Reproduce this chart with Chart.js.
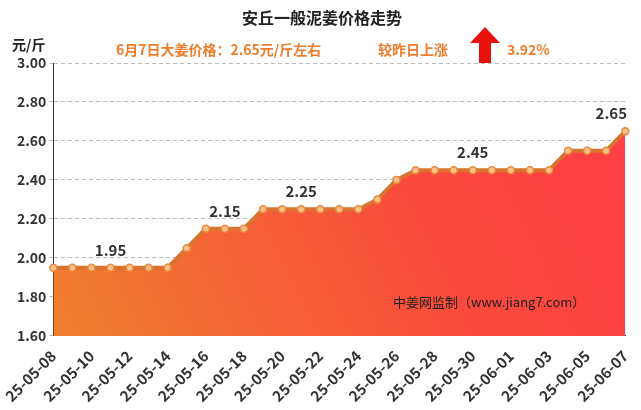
<!DOCTYPE html>
<html><head><meta charset="utf-8">
<script src="https://cdn.jsdelivr.net/npm/chart.js@4"></script>
<style>body{margin:0;background:#fff}#wrap{width:641px;height:410px}</style>
</head><body><div id="wrap"><canvas id="c"></canvas></div>
<script>
const dates = ['25-05-08','25-05-09','25-05-10','25-05-11','25-05-12','25-05-13','25-05-14','25-05-15','25-05-16','25-05-17','25-05-18','25-05-19','25-05-20','25-05-21','25-05-22','25-05-23','25-05-24','25-05-25','25-05-26','25-05-27','25-05-28','25-05-29','25-05-30','25-05-31','25-06-01','25-06-02','25-06-03','25-06-04','25-06-05','25-06-06','25-06-07'];
const prices = [1.95,1.95,1.95,1.95,1.95,1.95,1.95,2.05,2.15,2.15,2.15,2.25,2.25,2.25,2.25,2.25,2.25,2.30,2.40,2.45,2.45,2.45,2.45,2.45,2.45,2.45,2.45,2.55,2.55,2.55,2.65];
const labelIdx = [3,9,13,22,30];
const font = 'Microsoft YaHei, "Noto Sans CJK SC", sans-serif';

const textPlugin = {
  id: 'texts',
  afterDraw(chart) {
    const ctx = chart.ctx;
    ctx.save();
    ctx.fillStyle = '#222';
    ctx.font = 'bold 16px ' + font;
    ctx.textAlign = 'center';
    ctx.fillText('安丘一般泥姜价格走势', 322, 24);
    ctx.fillStyle = '#ee7d2e';
    ctx.font = 'bold 14px ' + font;
    ctx.textAlign = 'left';
    ctx.fillText('6月7日大姜价格：2.65元/斤左右', 116, 55);
    ctx.fillText('较昨日上涨', 378, 55);
    ctx.fillText('3.92%', 507, 55);
    // arrow
    ctx.fillStyle = '#e8120c';
    ctx.beginPath();
    ctx.moveTo(485, 27); ctx.lineTo(500, 43); ctx.lineTo(491, 43); ctx.lineTo(491, 63);
    ctx.lineTo(479, 63); ctx.lineTo(479, 43); ctx.lineTo(470, 43); ctx.closePath(); ctx.fill();
    ctx.fillStyle = '#222';
    ctx.font = 'bold 14px ' + font;
    ctx.fillText('元/斤', 12, 50);
    ctx.font = '13px ' + font;
    ctx.fillText('中姜网监制（www.jiang7.com）', 393, 307);
    // value labels
    const meta = chart.getDatasetMeta(0);
    ctx.font = 'bold 15px ' + font;
    ctx.fillStyle = '#333';
    ctx.textAlign = 'center';
    labelIdx.forEach(i => {
      const p = meta.data[i];
      ctx.fillText(prices[i].toFixed(2), p.x + (i === 30 ? -14 : 0), p.y - 12);
    });
    ctx.restore();
  }
};

new Chart(document.getElementById('c'), {
  type: 'line',
  data: {
    labels: dates,
    datasets: [{
      data: prices,
      borderColor: '#d8742f',
      borderWidth: 4,
      pointRadius: 3.5,
      pointBorderWidth: 1.5,
      pointBorderColor: '#e88a3a',
      pointBackgroundColor: '#f8c08a',
      fill: 'start',
      backgroundColor(ctx) {
        const a = ctx.chart.chartArea;
        if (!a) return '#f55';
        const g = ctx.chart.ctx.createLinearGradient(a.left, a.bottom, a.right, a.top);
        g.addColorStop(0, '#ef7f2e');
        g.addColorStop(0.6, '#fa4a3c');
        g.addColorStop(1, '#ff3d45');
        return g;
      }
    }]
  },
  options: {
    responsive: true,
    maintainAspectRatio: false,
    animation: false,
    layout: { padding: { top: 63, right: 14, left: 14, bottom: 2 } },
    plugins: { legend: { display: false }, tooltip: { enabled: false } },
    scales: {
      x: {
        offset: false,
        grid: { display: false },
        border: { color: '#333' },
        ticks: {
          autoSkip: false, maxRotation: 45, minRotation: 45,
          color: '#333', font: { size: 15, weight: 'bold', family: font },
          callback(v, i) { return i % 2 === 0 ? dates[i] : ''; }
        }
      },
      y: {
        min: 1.6, max: 3.0,
        grid: { color: '#bbb', tickLength: 4 },
        border: { dash: [4, 3], color: '#333' },
        ticks: {
          stepSize: 0.2, color: '#333', font: { size: 14, weight: 'bold', family: font },
          callback: v => v.toFixed(2)
        }
      }
    }
  },
  plugins: [textPlugin]
});
</script></body></html>
